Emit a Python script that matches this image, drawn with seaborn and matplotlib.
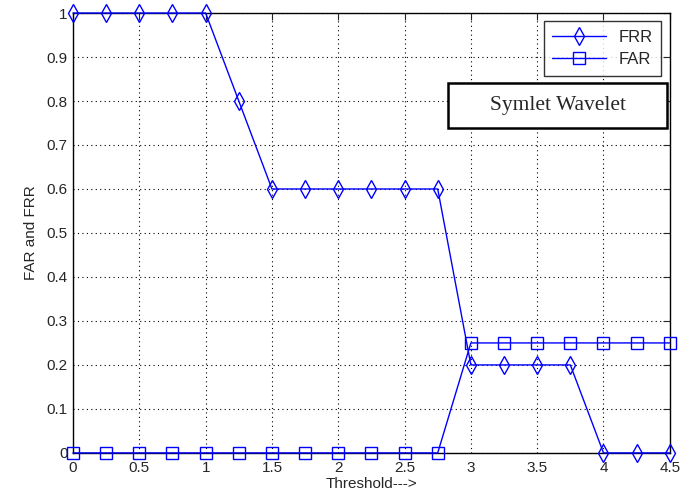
import matplotlib
matplotlib.use("Agg")
import matplotlib.pyplot as plt
import numpy as np
import pandas as pd
import seaborn as sns
from matplotlib.patches import Rectangle

threshold = [0, 0.25, 0.5, 0.75, 1, 1.25, 1.5, 1.75, 2, 2.25, 2.5, 2.75,
             3, 3.25, 3.5, 3.75, 4, 4.25, 4.5]
frr = [1, 1, 1, 1, 1, 0.8, 0.6, 0.6, 0.6, 0.6, 0.6, 0.6,
       0.2, 0.2, 0.2, 0.2, 0, 0, 0]
far = [0, 0, 0, 0, 0, 0, 0, 0, 0, 0, 0, 0,
       0.25, 0.25, 0.25, 0.25, 0.25, 0.25, 0.25]

sns.set_style("white")
plt.rcParams["font.family"] = ["Liberation Sans", "DejaVu Sans"]

df = pd.DataFrame({"Threshold": threshold * 2,
                   "value": frr + far,
                   "series": ["FRR"] * len(frr) + ["FAR"] * len(far)})

fig = plt.figure(figsize=(6.98, 5.01), dpi=100)
ax = fig.add_axes([0.1046, 0.096, 0.855, 0.878])

sns.lineplot(data=df, x="Threshold", y="value", hue="series", style="series",
             palette={"FRR": "#0000ff", "FAR": "#0000ff"},
             markers={"FRR": "d", "FAR": "s"}, dashes=False,
             markerfacecolor="none", markeredgecolor="#0000ff", markersize=9,
             markeredgewidth=1, linewidth=1, ax=ax, clip_on=False, zorder=5)

ax.set_xlim(0, 4.5)
ax.set_ylim(0, 1)
ax.set_xticks(np.arange(0, 4.51, 0.5))
ax.set_xticklabels(["0", "0.5", "1", "1.5", "2", "2.5", "3", "3.5", "4", "4.5"])
ax.set_yticks(np.arange(0, 1.01, 0.1))
ax.set_yticklabels(["0", "0.1", "0.2", "0.3", "0.4", "0.5", "0.6", "0.7", "0.8", "0.9", "1"])
ax.tick_params(direction="in", length=5, labelsize=11, top=True, right=True)
ax.tick_params(axis="x", pad=6)
ax.tick_params(axis="y", pad=4)
ax.grid(True, color="black", linestyle=(0, (1, 3)), linewidth=0.8)
for s in ax.spines.values():
    s.set_color("black")
    s.set_linewidth(1)
ax.set_xlabel("Threshold--->", fontsize=11, labelpad=1)
ax.set_ylabel("FAR and FRR", fontsize=11, labelpad=6)

leg = ax.legend(loc="upper right", fontsize=12, frameon=True, fancybox=False,
                edgecolor="black", borderaxespad=0.5, handlelength=3.2,
                borderpad=0.5, labelspacing=0.45)
leg.get_frame().set_linewidth(1)
leg.set_zorder(10)
for h in leg.legend_handles:
    h.set_markerfacecolor("none")

box = Rectangle((0.642, 0.7445), 0.3138, 0.0898, transform=fig.transFigure,
                facecolor="white", edgecolor="black", linewidth=1.8, zorder=10)
fig.patches.append(box)
fig.text(0.799, 0.789, "Symlet Wavelet", fontsize=15.5, family="Liberation Serif",
         ha="center", va="center", zorder=11)

fig.savefig("out.png", dpi=100)
